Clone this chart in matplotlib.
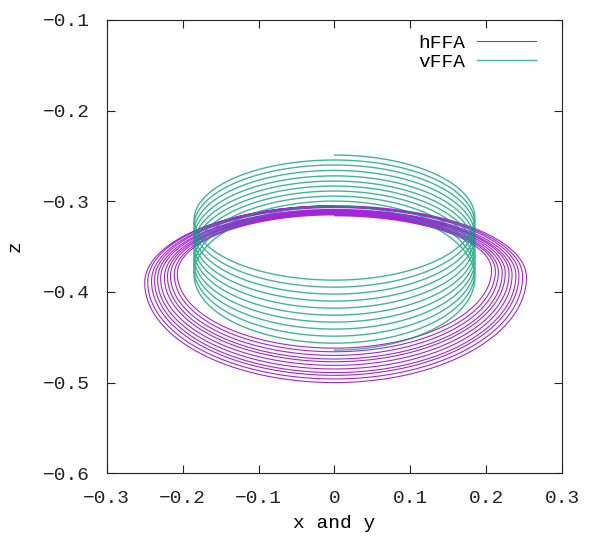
import numpy as np
import matplotlib
matplotlib.use('Agg')
import matplotlib.pyplot as plt

# hFFA orbit: one value per turn (inner turn first)
hffa_top_z = [-0.316, -0.315, -0.314, -0.313, -0.312, -0.311, -0.310, -0.309, -0.307, -0.306, -0.305]
hffa_bottom_z = [-0.462, -0.466, -0.470, -0.474, -0.477, -0.481, -0.485, -0.489, -0.492, -0.496, -0.500]
hffa_left_x = [-0.207, -0.211, -0.216, -0.220, -0.224, -0.229, -0.233, -0.237, -0.241, -0.246, -0.250]
hffa_right_x = [0.207, 0.212, 0.216, 0.221, 0.225, 0.230, 0.234, 0.239, 0.243, 0.248, 0.253]
hffa_left_z = [-0.380, -0.381, -0.382, -0.383, -0.384, -0.385, -0.386, -0.387, -0.388, -0.389, -0.390]
hffa_right_z = [-0.376, -0.377, -0.378, -0.379, -0.379, -0.380, -0.381, -0.382, -0.382, -0.383, -0.384]

# vFFA orbit: cylinder radius and z at back / front of every turn
vffa_radius = 0.185
vffa_back_z = [-0.249, -0.2545, -0.260, -0.266, -0.272, -0.2777, -0.2832, -0.2887, -0.2943, -0.2998, -0.3053]
vffa_front_z = [-0.387, -0.3947, -0.4024, -0.4101, -0.4179, -0.4256, -0.4333, -0.441, -0.4488, -0.4565, -0.4642]


def quarter(p0, p1, horizontal_first, n=40):
    # elliptic quarter arc between two extreme points
    phi = np.linspace(0, np.pi / 2, n)
    if horizontal_first:
        # starts at a top/bottom point, ends at a side point
        x = p0[0] + (p1[0] - p0[0]) * np.sin(phi)
        z = p1[1] + (p0[1] - p1[1]) * np.cos(phi)
    else:
        # starts at a side point, ends at a top/bottom point
        x = p1[0] + (p0[0] - p1[0]) * np.cos(phi)
        z = p0[1] + (p1[1] - p0[1]) * np.sin(phi)
    return x, z


# build hFFA path: top -> right -> bottom -> left -> next top
hx, hz = [], []
n_turns = len(hffa_top_z)
for i in range(n_turns):
    top = (0.0, hffa_top_z[i])
    right = (hffa_right_x[i], hffa_right_z[i])
    bottom = (0.0, hffa_bottom_z[i])
    left = (hffa_left_x[i], hffa_left_z[i])
    segs = [quarter(top, right, True), quarter(right, bottom, False),
            quarter(bottom, left, True)]
    if i + 1 < n_turns:
        segs.append(quarter(left, (0.0, hffa_top_z[i + 1]), False))
    else:
        segs.append(quarter(left, top, False))
    for x, z in segs:
        hx.extend(x)
        hz.extend(z)

# build vFFA helix: back -> right side -> front -> left side -> next back
vx, vz = [], []
for k in range(len(vffa_back_z)):
    th = np.linspace(0, np.pi, 120)
    b, f = vffa_back_z[k], vffa_front_z[k]
    vx.extend(vffa_radius * np.sin(th))
    vz.extend((b + f) / 2 + (b - f) / 2 * np.cos(th))
    if k + 1 < len(vffa_back_z):
        th = np.linspace(np.pi, 2 * np.pi, 120)
        b2 = vffa_back_z[k + 1]
        vx.extend(vffa_radius * np.sin(th))
        vz.extend((b2 + f) / 2 + (b2 - f) / 2 * np.cos(th))

plt.rcParams['font.family'] = ['Liberation Mono', 'DejaVu Sans Mono']
fig = plt.figure(figsize=(5.93, 5.39), dpi=100)
ax = fig.add_axes([0.180, 0.122, 0.768, 0.841])

ax.plot(hx, hz, color='#9400d3', lw=0.8, alpha=0.85, label='hFFA')
ax.plot(vx, vz, color='#009e73', lw=1.0, alpha=0.75, label='vFFA')

ax.set_xlim(-0.3, 0.3)
ax.set_ylim(-0.6, -0.1)
ax.set_xticks([-0.3, -0.2, -0.1, 0, 0.1, 0.2, 0.3])
ax.set_xticklabels(['\u22120.3', '\u22120.2', '\u22120.1', '0', '0.1', '0.2', '0.3'])
ax.set_yticks([-0.6, -0.5, -0.4, -0.3, -0.2, -0.1])
ax.set_yticklabels(['\u22120.6', '\u22120.5', '\u22120.4', '\u22120.3', '\u22120.2', '\u22120.1'])
ax.tick_params(axis='both', direction='in', length=6, width=0.8, top=True, right=True,
               labelsize=14, colors='#222222')
ax.tick_params(axis='x', pad=12)
ax.tick_params(axis='y', pad=12)
for s in ax.spines.values():
    s.set_linewidth(0.8)
    s.set_color('#222222')

ax.set_xlabel('x and y', fontsize=14, labelpad=6)
ax.set_ylabel('z', fontsize=14, labelpad=14)

leg = ax.legend(loc='upper right', bbox_to_anchor=(0.942, 0.968), frameon=False,
                markerfirst=False, fontsize=14, handlelength=3.0,
                handletextpad=0.6, labelspacing=0.05, borderaxespad=0, borderpad=0)

fig.savefig('out.png', dpi=100)
